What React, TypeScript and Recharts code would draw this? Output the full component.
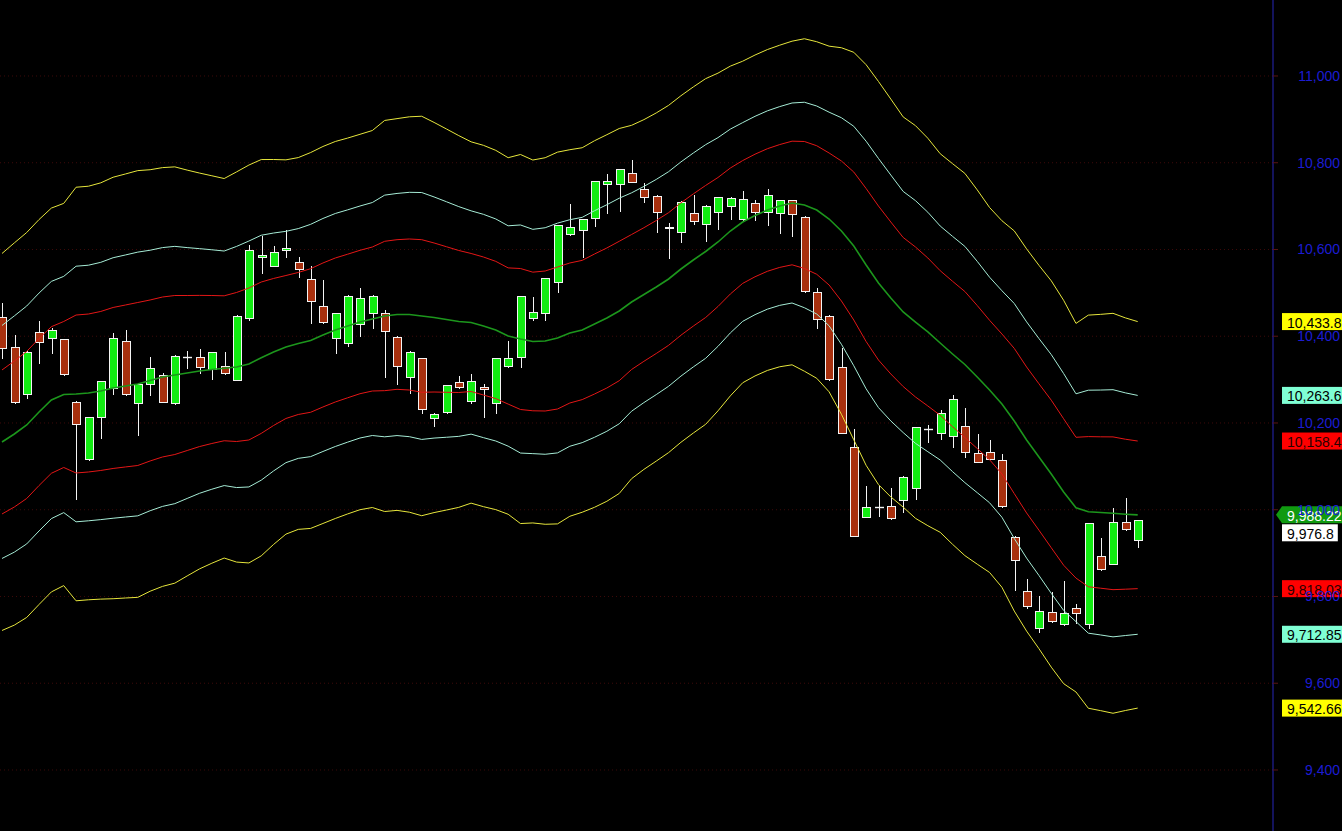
import React from 'react'
import { Bar, CartesianGrid, ComposedChart, Line, ReferenceLine, XAxis, YAxis } from 'recharts'

// daily candles (oldest first)
const opens = [
  10445, 10376, 10267, 10410, 10395, 10393, 10248, 10117, 10213, 10280,
  10390, 10245, 10291, 10311, 10245, 10353, 10351, 10324, 10331, 10299,
  10441, 10583, 10562, 10598, 10570, 10531, 10470, 10395, 10384, 10428,
  10453, 10453, 10399, 10305, 10349, 10211, 10225, 10294, 10251, 10284,
  10245, 10331, 10353, 10441, 10453, 10524, 10635, 10645, 10672, 10750,
  10750, 10776, 10740, 10724, 10652, 10640, 10683, 10659, 10686, 10701,
  10670, 10707, 10687, 10683, 10713, 10676, 10501, 10447, 10328, 10145,
  9984, 10007, 10009, 10022, 10051, 10186, 10176, 10170, 10194, 10130,
  10132, 10114, 9938, 9813, 9727, 9765, 9736, 9773, 9736, 9894,
  9876, 9971, 9930,
]
const highs = [
  10476, 10403, 10366, 10434, 10418, 10394, 10251, 10214, 10297, 10407,
  10414, 10292, 10353, 10315, 10357, 10367, 10371, 10364, 10363, 10448,
  10610, 10630, 10608, 10645, 10582, 10562, 10530, 10454, 10494, 10511,
  10494, 10461, 10400, 10365, 10350, 10224, 10288, 10308, 10313, 10289,
  10350, 10389, 10493, 10490, 10534, 10657, 10705, 10670, 10759, 10774,
  10786, 10806, 10753, 10725, 10661, 10711, 10726, 10702, 10721, 10721,
  10735, 10714, 10740, 10713, 10714, 10677, 10511, 10448, 10372, 10185,
  10055, 10055, 10051, 10077, 10191, 10195, 10231, 10265, 10235, 10175,
  10161, 10129, 9939, 9840, 9801, 9810, 9836, 9783, 9970, 9935,
  10003, 10026, 9977,
]
const lows = [
  10349, 10245, 10257, 10338, 10361, 10311, 10024, 10115, 10166, 10266,
  10265, 10172, 10264, 10248, 10244, 10326, 10316, 10301, 10313, 10298,
  10437, 10545, 10561, 10583, 10537, 10431, 10431, 10362, 10378, 10401,
  10420, 10305, 10291, 10268, 10222, 10194, 10224, 10281, 10247, 10213,
  10224, 10330, 10328, 10437, 10437, 10503, 10634, 10583, 10654, 10683,
  10689, 10755, 10710, 10641, 10580, 10618, 10659, 10620, 10647, 10670,
  10669, 10668, 10657, 10639, 10630, 10503, 10420, 10300, 10177, 9939,
  9983, 9986, 9979, 9994, 10025, 10157, 10162, 10145, 10122, 10109,
  10116, 10007, 9815, 9774, 9719, 9742, 9735, 9740, 9727, 9862,
  9875, 9954, 9915,
]
const closes = [
  10374, 10249, 10364, 10387, 10414, 10312, 10197, 10213, 10296, 10395,
  10267, 10291, 10326, 10249, 10354, 10353, 10328, 10363, 10315, 10447,
  10599, 10587, 10595, 10603, 10554, 10481, 10432, 10453, 10493, 10488,
  10493, 10412, 10331, 10364, 10232, 10220, 10287, 10282, 10296, 10278,
  10349, 10349, 10492, 10457, 10534, 10656, 10651, 10670, 10759, 10759,
  10785, 10756, 10721, 10686, 10650, 10710, 10666, 10701, 10720, 10718,
  10717, 10686, 10725, 10713, 10681, 10504, 10439, 10301, 10178, 9940,
  10007, 10007, 9980, 10076, 10190, 10186, 10224, 10255, 10134, 10109,
  10116, 10008, 9883, 9779, 9767, 9743, 9763, 9761, 9969, 9863,
  9971, 9955, 9976.8,
]

// band centre line (green) and band unit (distance centre -> red band)
const basis = [
  10156.2, 10174.6, 10195.4, 10225.3, 10253.0, 10265.7, 10266.8, 10269.1, 10273.8, 10280.7,
  10285.3, 10289.9, 10298.0, 10306.0, 10310.6, 10315.2, 10319.9, 10323.3, 10326.1, 10329.1,
  10336.0, 10350.5, 10363.7, 10375.2, 10383.3, 10390.2, 10402.9, 10414.4, 10423.6, 10432.8,
  10439.7, 10446.7, 10450.1, 10450.1, 10446.7, 10443.2, 10438.6, 10434.0, 10431.7, 10423.6,
  10414.4, 10400.6, 10393.6, 10387.9, 10389.0, 10395.9, 10407.5, 10414.4, 10428.2, 10442.1,
  10458.2, 10478.9, 10496.2, 10513.5, 10532.0, 10555.0, 10575.8, 10595.4, 10617.3, 10642.6,
  10663.4, 10678.4, 10691.0, 10700.3, 10707.2, 10702.6, 10691.0, 10670.3, 10642.6, 10608.0,
  10564.2, 10522.7, 10488.2, 10455.9, 10432.8, 10409.8, 10384.4, 10359.1, 10334.8, 10306.0,
  10276.1, 10243.8, 10204.6, 10160.8, 10121.6, 10082.4, 10040.9, 10004.7, 9995.5, 9993.6,
  9991.8, 9989.7, 9988.22,
]
const bandUnit = [
  166.0, 168.3, 169.5, 169.5, 169.0, 168.3, 182.1, 182.1, 183.3, 185.6,
  186.7, 187.9, 185.6, 184.4, 183.3, 178.7, 174.3, 170.6, 167.1, 171.8,
  175.2, 174.5, 169.5, 164.8, 163.7, 165.5, 166.0, 166.0, 165.5, 165.3,
  166.0, 172.2, 172.5, 174.1, 175.9, 171.8, 167.8, 163.7, 159.1, 159.1,
  158.2, 157.0, 162.5, 159.8, 161.4, 163.7, 161.4, 160.5, 161.4, 161.4,
  160.7, 155.6, 154.0, 153.3, 152.9, 152.6, 152.4, 152.2, 148.7, 145.2,
  141.6, 141.3, 141.3, 141.6, 142.5, 146.4, 148.2, 152.2, 161.4, 170.6,
  176.4, 177.5, 175.2, 171.8, 172.9, 170.6, 166.7, 167.6, 168.3, 164.8,
  160.7, 161.4, 167.4, 168.3, 168.8, 170.1, 168.8, 162.3, 173.1, 174.5,
  176.1, 172.9, 170.18,
]
const fibRatios = [1, 1.618, 2.618]

const priceTicks = [9400, 9600, 9800, 10000, 10200, 10400, 10600, 10800, 11000]
const priceDomain = [9259.3, 11175.2]
const indexDomain = [-0.162, 102.96]

// last values shown in the tags on the right
const tagValues = [10433.8, 10263.6, 10158.4, 9988.22, 9976.8, 9818.03, 9712.85, 9542.66]
const tagTexts = ['10,433.8', '10,263.6', '10,158.4', '9,988.22', '9,976.8', '9,818.03', '9,712.85', '9,542.66']
const tagFills = ['#ffff00', '#7fffd4', '#ff0000', '#109a10', '#ffffff', '#ff0000', '#7fffd4', '#ffff00']

const YELLOW = '#e6e63c'
const CYAN = '#a6ecd6'
const RED = '#e31616'
const GREEN = '#1c961c'
const BULL = '#12ec12'
const BEAR = '#a8300e'
const FONT = '"Liberation Sans", Arial, sans-serif'

const rows = opens.map((open, i) => {
  const mid = basis[i]
  const unit = bandUnit[i]
  return {
    i,
    open,
    high: highs[i],
    low: lows[i],
    close: closes[i],
    range: [lows[i], highs[i]],
    mid,
    up1: mid + unit * fibRatios[0],
    up2: mid + unit * fibRatios[1],
    up3: mid + unit * fibRatios[2],
    dn1: mid - unit * fibRatios[0],
    dn2: mid - unit * fibRatios[1],
    dn3: mid - unit * fibRatios[2],
  }
})

const Candle = (props: any) => {
  const { x, y, width, height, payload } = props
  if (x == null || y == null || !payload) return null
  const { open, close, high, low } = payload
  const top0 = Math.min(y, y + height)
  const h = Math.abs(height)
  const per = high > low ? h / (high - low) : 0
  const yOf = (v: number) => top0 + (high - v) * per
  const cx = Math.round(x + width / 2)
  const bodyTop = Math.round(yOf(Math.max(open, close))) + 0.5
  const bodyBottom = Math.round(yOf(Math.min(open, close))) + 0.5
  const wickTop = Math.round(top0)
  const wickBottom = Math.round(top0 + h)
  const bull = close > open
  const bodyH = bodyBottom - bodyTop
  return (
    <g>
      <line x1={cx + 0.5} x2={cx + 0.5} y1={wickTop} y2={wickBottom + 1} stroke="#f4f4f4" strokeWidth={1} />
      {bodyH < 1 ? (
        <line x1={cx - 4} x2={cx + 5} y1={bodyTop} y2={bodyTop} stroke="#f4f4f4" strokeWidth={1.4} />
      ) : (
        <rect
          x={cx - 3.5}
          y={bodyTop}
          width={8}
          height={bodyH}
          fill={bull ? BULL : BEAR}
          stroke="#f4f4f4"
          strokeWidth={1}
        />
      )}
    </g>
  )
}

const PriceTick = (props: any) => {
  const { x, y, payload } = props
  return (
    <text x={x + 60} y={y} textAnchor="end" dominantBaseline="central" fill="#1c1cd2" fontSize={14} fontFamily={FONT}>
      {payload.value.toLocaleString('en-US')}
    </text>
  )
}

const textWidth = (s: string) =>
  s.split('').reduce((w, ch) => w + (ch === ',' || ch === '.' ? 3.9 : 7.8), 0)

const PriceTag = ({ viewBox, k }: { viewBox: any; k: number }) => {
  if (!viewBox) return null
  const right = viewBox.x + viewBox.width
  // the close tag sits just under the centre-line tag
  const ty = viewBox.y + (k === 4 ? 13 : 0)
  const left = right + 9
  const w = textWidth(tagTexts[k]) + 9
  const isArrow = k === 3
  const textColor = isArrow ? '#ffffff' : k === 2 || k === 5 ? '#2a0000' : '#000000'
  return (
    <g>
      {isArrow ? (
        <polygon
          points={`${right + 3},${ty} ${left},${ty - 8.5} ${left + w},${ty - 8.5} ${left + w},${ty + 8.5} ${left},${ty + 8.5}`}
          fill={tagFills[k]}
        />
      ) : (
        <rect x={left} y={ty - 8.5} width={w} height={17} fill={tagFills[k]} />
      )}
      <text x={left + 5} y={ty + 1} dominantBaseline="central" fill={textColor} fontSize={14} fontFamily={FONT}>
        {tagTexts[k]}
      </text>
    </g>
  )
}

export default function App() {
  return (
    <div style={{ width: 1342, height: 831, background: '#000' }}>
      <style>{'body{margin:0;background:#000}'}</style>
      <ComposedChart width={1342} height={831} data={rows} margin={{ top: 0, right: 0, bottom: 0, left: 0 }}>
        <CartesianGrid vertical={false} horizontalValues={priceTicks} stroke="#3e0a0a" strokeDasharray="1 3" />
        <XAxis type="number" dataKey="i" domain={indexDomain} allowDataOverflow hide />
        <YAxis
          orientation="right"
          domain={priceDomain}
          ticks={priceTicks}
          allowDataOverflow
          width={69}
          axisLine={{ stroke: '#2626b8' }}
          tickLine={{ stroke: '#5a1414' }}
          tickSize={5}
          tickMargin={2}
          tick={<PriceTick />}
        />
        <Bar dataKey="range" barSize={9} shape={<Candle />} isAnimationActive={false} />
        <Line dataKey="up3" stroke={YELLOW} strokeWidth={1} dot={false} activeDot={false} isAnimationActive={false} />
        <Line dataKey="up2" stroke={CYAN} strokeWidth={1} dot={false} activeDot={false} isAnimationActive={false} />
        <Line dataKey="up1" stroke={RED} strokeWidth={1} dot={false} activeDot={false} isAnimationActive={false} />
        <Line dataKey="mid" stroke={GREEN} strokeWidth={1.6} dot={false} activeDot={false} isAnimationActive={false} />
        <Line dataKey="dn1" stroke={RED} strokeWidth={1} dot={false} activeDot={false} isAnimationActive={false} />
        <Line dataKey="dn2" stroke={CYAN} strokeWidth={1} dot={false} activeDot={false} isAnimationActive={false} />
        <Line dataKey="dn3" stroke={YELLOW} strokeWidth={1} dot={false} activeDot={false} isAnimationActive={false} />
        {tagValues.map((v, k) => (
          <ReferenceLine
            key={k}
            y={v}
            stroke="none"
            ifOverflow="visible"
            label={(p: any) => <PriceTag viewBox={p.viewBox} k={k} />}
          />
        ))}
      </ComposedChart>
    </div>
  )
}
